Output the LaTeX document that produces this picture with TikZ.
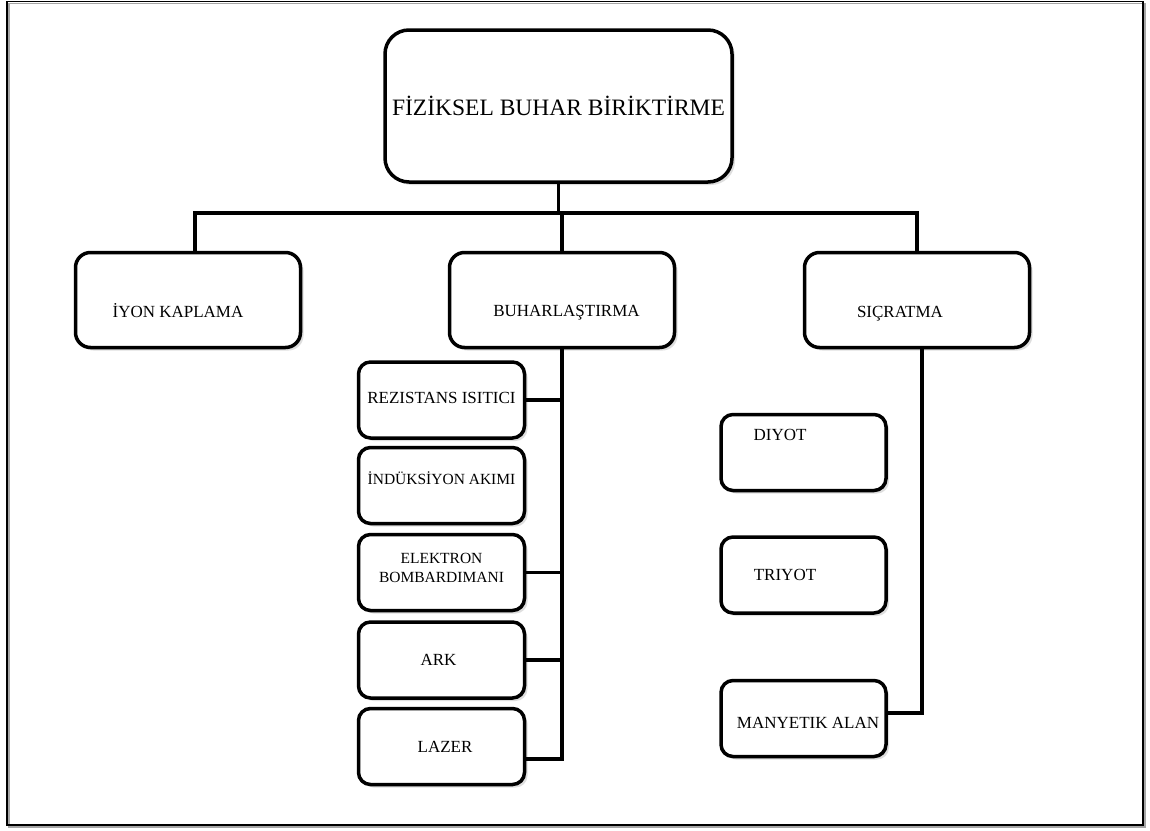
\documentclass[tikz,border=0pt]{standalone}
\usepackage{fontspec}
\setmainfont{Liberation Serif}
\usetikzlibrary{shadows,calc}
\begin{document}
\begin{tikzpicture}[x=1pt,y=-1pt,
  box/.style={draw=black, line width=3.5pt, fill=white, inner sep=0pt,
    drop shadow={shadow xshift=3pt,shadow yshift=-3pt,fill=black!25}},
  topbox/.style={box, rounded corners=24pt, minimum width=347pt, minimum height=152pt},
  midbox/.style={box, rounded corners=15pt, minimum width=225pt, minimum height=95pt},
  smallbox/.style={box, rounded corners=12pt, minimum width=166pt, minimum height=76pt},
  conn/.style={line width=3.5pt},
  lbl/.style={font=\fontsize{17}{20}\selectfont, inner sep=0pt},
  lblsm/.style={font=\fontsize{15.5}{19}\selectfont, inner sep=0pt, align=center}]
\useasboundingbox (0,0) rectangle (1150,830);
\fill[white] (0,0) rectangle (1150,830);
% frame
\draw[black!35, line width=1.5pt] (9,3.5) rectangle (1145,827);
\draw[line width=1.5pt] (7,1.5) rectangle (1143,825);

% top
\node[topbox, font=\fontsize{23.5}{27}\selectfont] (top) at (558.5,106) {FİZİKSEL BUHAR BİRİKTİRME};

% second level
\node[midbox, label={[lbl, xshift=-10pt, yshift=-11pt]center:İYON KAPLAMA}] (iyon) at (188,300) {};
\node[midbox, label={[lbl, xshift=4.5pt, yshift=-13pt]center:BUHARLAŞTIRMA}] (buhar) at (562,300) {};
\node[midbox, label={[lbl, xshift=-17pt, yshift=-14pt]center:SIÇRATMA}] (sic) at (917,300) {};

% buharlastirma children
\node[smallbox, label={[lbl, yshift=2pt]center:REZISTANS ISITICI}] (rez) at (441.5,400) {};
\node[smallbox, label={[lblsm, yshift=7.5pt]center:İNDÜKSİYON AKIMI}] (ind) at (441.5,485.5) {};
\node[smallbox, label={[lblsm, yshift=5pt]center:ELEKTRON\\BOMBARDIMANI}] (elek) at (441.5,572.5) {};
\node[smallbox, label={[lbl, xshift=-3pt]center:ARK}] (ark) at (441.5,660) {};
\node[smallbox, label={[lbl, xshift=3.5pt]center:LAZER}] (lazer) at (441.5,746.5) {};

% sicratma children
\node[smallbox, minimum width=165pt, label={[lbl, xshift=-23.5pt, yshift=17.5pt]center:DIYOT}] (diyot) at (803.5,452.5) {};
\node[smallbox, minimum width=165pt, label={[lbl, xshift=-18.5pt]center:TRIYOT}] (triyot) at (803.5,575) {};
\node[smallbox, minimum width=165pt, label={[lbl, xshift=4.5pt, yshift=-4.5pt]center:MANYETIK ALAN}] (many) at (803.5,718.5) {};

% connectors top level
\coordinate (hj) at (557,213);
\draw[conn] (top.south) -- (top.south |- hj);
\draw[conn] ([xshift=7pt]iyon.north) -- ([xshift=7pt]iyon.north |- hj) -- (sic.north |- hj) -- (sic.north);
\draw[conn] (buhar.north) -- (buhar.north |- hj);

% buharlastirma trunk
\coordinate (lz) at ($(lazer.east)+(0,12.5)$);
\draw[conn] (buhar.south) -- (buhar.south |- lz) -- (lz);
\draw[conn] (rez.east) -- (rez.east -| buhar.south);
\draw[conn] ($(ind.east)+(0,-7.5)$) -- ($(ind.east)+(0,-7.5)$ -| buhar.south);
\draw[conn] (elek.east) -- (elek.east -| buhar.south);
\draw[conn] (ark.east) -- (ark.east -| buhar.south);

% sicratma trunk
\coordinate (st) at ($(sic.south)+(5,0)$);
\coordinate (mz) at ($(many.east)+(0,-5.5)$);
\draw[conn] (st) -- (st |- mz) -- (mz);
\draw[conn] ($(diyot.east)+(0,-7.5)$) -- ($(diyot.east)+(0,-7.5)$ -| st);
\draw[conn] ($(triyot.east)+(0,-3)$) -- ($(triyot.east)+(0,-3)$ -| st);
\end{tikzpicture}
\end{document}
